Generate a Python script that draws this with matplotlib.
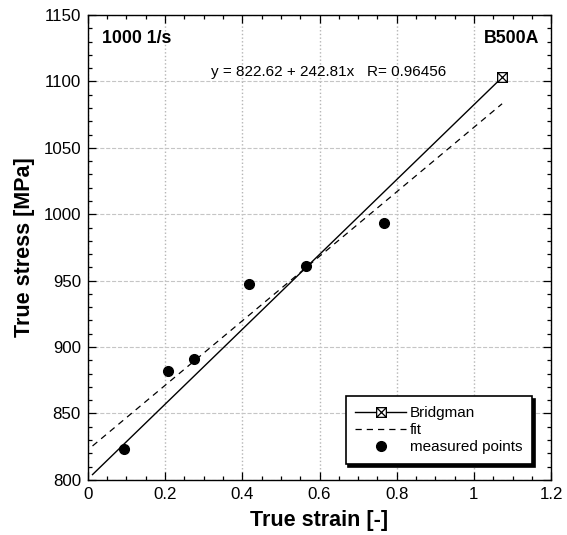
import matplotlib
matplotlib.use("Agg")
import matplotlib.pyplot as plt
from matplotlib.path import Path
from matplotlib.ticker import MultipleLocator
import numpy as np

plt.rcParams['font.family'] = ['Liberation Sans', 'DejaVu Sans']

# Punti misurati (deformazione vera, tensione vera)
strain_meas = [0.093, 0.208, 0.276, 0.418, 0.564, 0.768]
stress_meas = [823.3, 882.1, 891.1, 947.6, 960.9, 993.3]

# Correzione di Bridgman (retta tra due estremi)
strain_bridg = [0.012, 1.073]
stress_bridg = [804.0, 1103.0]

# Regressione lineare
fit_a = 822.62
fit_b = 242.81
fit_r = 0.96456
strain_fit = np.array([0.012, 1.073])
stress_fit = fit_a + fit_b * strain_fit

# Marker quadrato con croce
box_x = Path([(-1, -1), (1, -1), (1, 1), (-1, 1), (-1, -1),
              (-1, -1), (1, 1), (-1, 1), (1, -1)],
             [Path.MOVETO, Path.LINETO, Path.LINETO, Path.LINETO, Path.CLOSEPOLY,
              Path.MOVETO, Path.LINETO, Path.MOVETO, Path.LINETO])

fig = plt.figure(figsize=(5.67, 5.35), dpi=100)
ax = fig.add_axes([0.155, 0.103, 0.817, 0.869])

ax.plot(strain_bridg, stress_bridg, color='black', lw=1.0, marker=box_x,
        markevery=[1], ms=7, mfc='white', mec='black', mew=0.9, label='Bridgman')
ax.plot(strain_fit, stress_fit, color='black', lw=0.9, ls=(0, (5, 4)), label='fit')
ax.plot(strain_meas, stress_meas, 'o', color='black', ms=7, ls='none',
        label='measured points')

ax.set_xlim(0, 1.2)
ax.set_ylim(800, 1150)
ax.xaxis.set_major_locator(MultipleLocator(0.2))
ax.xaxis.set_minor_locator(MultipleLocator(0.05))
ax.yaxis.set_major_locator(MultipleLocator(50))
ax.yaxis.set_minor_locator(MultipleLocator(10))
ax.set_xticks([0, 0.2, 0.4, 0.6, 0.8, 1.0, 1.2])
ax.set_xticklabels(['0', '0.2', '0.4', '0.6', '0.8', '1', '1.2'])
ax.tick_params(which='both', direction='in', top=True, right=True,
               labelsize=12.2, width=0.9)
ax.tick_params(which='major', length=6, pad=5)
ax.tick_params(which='minor', length=3)
for s in ax.spines.values():
    s.set_linewidth(1.0)

ax.xaxis.grid(True, ls=':', color='#b5b5b5', lw=1.0)
ax.yaxis.grid(True, ls='--', color='#c5c5c5', lw=0.8)
ax.set_axisbelow(True)

ax.set_xlabel('True strain [-]', fontsize=15.5, fontweight='bold', labelpad=6)
ax.set_ylabel('True stress [MPa]', fontsize=15.5, fontweight='bold', labelpad=6)

ax.text(0.03, 0.968, '1000 1/s', transform=ax.transAxes, fontsize=12.8,
        fontweight='bold', ha='left', va='top')
ax.text(0.975, 0.968, 'B500A', transform=ax.transAxes, fontsize=12.8,
        fontweight='bold', ha='right', va='top')
ax.text(0.52, 0.877, f'y = {fit_a:.2f} + {fit_b:.2f}x   R= {fit_r:.5f}',
        transform=ax.transAxes, fontsize=11, ha='center', va='center')

leg = ax.legend(loc='lower right', bbox_to_anchor=(0.959, 0.034), borderaxespad=0,
                fontsize=11, numpoints=1, handlelength=3.3, handletextpad=0.25,
                labelspacing=0.2, fancybox=False, edgecolor='black', framealpha=1,
                shadow={'color': 'black', 'alpha': 1, 'ox': 2, 'oy': -2},
                borderpad=0.65)
leg.get_frame().set_linewidth(1.2)

fig.savefig('out.png', dpi=100)
